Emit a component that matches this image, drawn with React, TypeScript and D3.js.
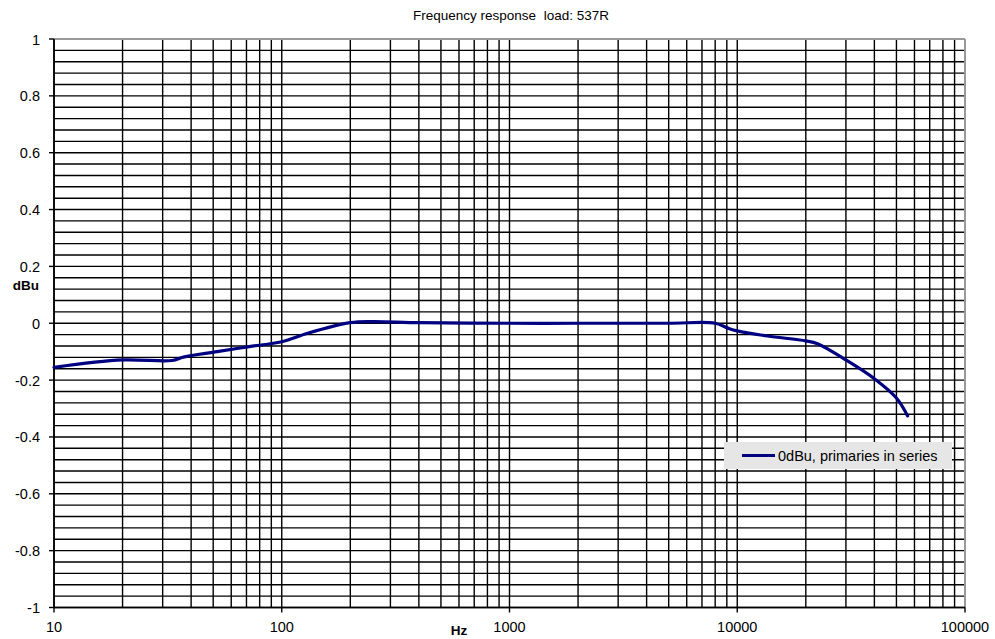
import React from "react";
import * as d3 from "d3";

const freqs = [10, 20, 33, 37, 52, 72, 100, 130, 200, 250, 400, 1000, 2000, 5000, 8000, 9150, 10000, 13600, 20000, 22500, 30000, 40000, 50000, 56000];
const values = [-0.155, -0.129, -0.131, -0.119, -0.1, -0.082, -0.065, -0.035, 0.002, 0.006, 0.002, 0, 0, 0, 0, -0.018, -0.027, -0.045, -0.062, -0.072, -0.129, -0.195, -0.263, -0.326];
const xTicks = [10, 100, 1000, 10000, 100000];
const yTicks = [1, 0.8, 0.6, 0.4, 0.2, 0, -0.2, -0.4, -0.6, -0.8, -1];
const title = "Frequency response  load: 537R";
const seriesName = "0dBu, primaries in series";

const W = 995, H = 639;
const L = 54, R = 965, T = 39, B = 607.5;
const FONT = "'Liberation Sans', Arial, sans-serif";

export default function App() {
  const x = d3.scaleLog().domain([10, 100000]).range([L, R]);
  const y = d3.scaleLinear().domain([-1, 1]).range([B, T]);

  const vGrid: number[] = [];
  for (let d = 10; d < 100000; d *= 10) {
    for (let k = 1; k <= 9; k++) vGrid.push(d * k);
  }
  vGrid.push(100000);
  const hGrid: number[] = [];
  for (let i = 0; i <= 50; i++) hGrid.push(-1 + i * 0.04);

  const line = d3
    .line<number>()
    .x((_, i) => x(freqs[i]))
    .y((v) => y(v))
    .curve(d3.curveCatmullRom.alpha(0.5));

  return (
    <svg width={W} height={H} style={{ position: "absolute", left: 0, top: 0, background: "#fff" }}>
      <rect x={0} y={0} width={W} height={H} fill="#fff" />
      <text x={511} y={20} textAnchor="middle" fontFamily={FONT} fontSize={13.5} fill="#000" style={{ whiteSpace: "pre" }}>
        {title}
      </text>
      {hGrid.map((v, i) => (
        <line key={"h" + i} x1={L} x2={R} y1={y(v)} y2={y(v)} stroke="#000" strokeWidth={1.4} />
      ))}
      {vGrid.map((f, i) => (
        <line key={"v" + i} x1={x(f)} x2={x(f)} y1={T} y2={B} stroke="#000" strokeWidth={1.4} />
      ))}
      <line x1={L} x2={R} y1={T} y2={T} stroke="#999" strokeWidth={2} />
      <line x1={R} x2={R} y1={T} y2={B} stroke="#999" strokeWidth={2} />
      <line x1={L} x2={L} y1={T} y2={B} stroke="#000" strokeWidth={1.6} />
      <line x1={L} x2={R} y1={B} y2={B} stroke="#000" strokeWidth={1.6} />
      {yTicks.map((v, i) => (
        <g key={"yt" + i}>
          <line x1={L - 5} x2={L} y1={y(v)} y2={y(v)} stroke="#000" strokeWidth={1.4} />
          <text x={40} y={y(v) + 5.5} textAnchor="end" fontFamily={FONT} fontSize={14.5} fill="#000">
            {String(v)}
          </text>
        </g>
      ))}
      {xTicks.map((f, i) => (
        <g key={"xt" + i}>
          <line x1={x(f)} x2={x(f)} y1={B} y2={B + 5} stroke="#000" strokeWidth={1.4} />
          <text x={x(f)} y={632} textAnchor="middle" fontFamily={FONT} fontSize={14.5} fill="#000">
            {String(f)}
          </text>
        </g>
      ))}
      <text x={39} y={290} textAnchor="end" fontFamily={FONT} fontSize={13.5} fontWeight="bold" fill="#000">
        dBu
      </text>
      <text x={459} y={635} textAnchor="middle" fontFamily={FONT} fontSize={13.5} fontWeight="bold" fill="#000">
        Hz
      </text>
      <path d={line(values) || ""} fill="none" stroke="#000080" strokeWidth={3.2} strokeLinejoin="round" strokeLinecap="round" />
      <rect x={724} y={442} width={228} height={27} fill="#e6e6e6" />
      <line x1={742} x2={775} y1={455.5} y2={455.5} stroke="#000080" strokeWidth={3.2} />
      <text x={778} y={460.5} fontFamily={FONT} fontSize={14.5} fill="#000">
        {seriesName}
      </text>
    </svg>
  );
}
